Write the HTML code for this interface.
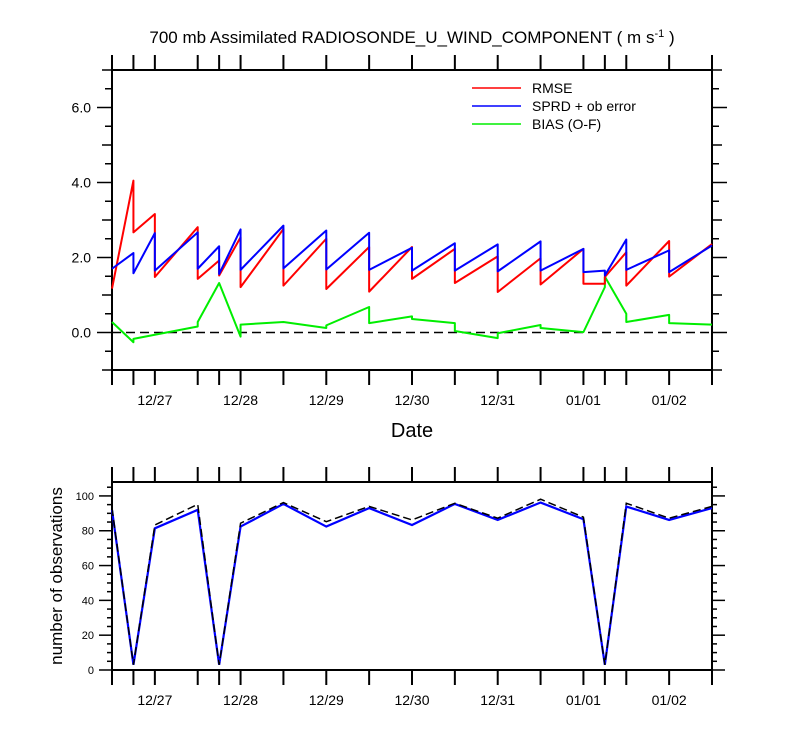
<!DOCTYPE html>
<html><head><meta charset="utf-8"><style>
body{margin:0;background:#fff;}
svg{display:block;font-family:"Liberation Sans",sans-serif;}
</style></head><body>
<svg id="c" width="800" height="750" viewBox="0 0 800 750">
<text x="412" y="43" font-size="17" text-anchor="middle">700 mb Assimilated RADIOSONDE_U_WIND_COMPONENT ( m s<tspan dy="-6" font-size="11">-1</tspan><tspan dy="6"> )</tspan></text>
<text x="412" y="437" font-size="20" text-anchor="middle">Date</text>
<text transform="translate(62,576) rotate(-90)" font-size="17" text-anchor="middle">number of observations</text>
<g>
<line x1="472" y1="88" x2="521" y2="88" stroke="#f00" stroke-width="1.5"/><text x="532" y="93" font-size="14">RMSE</text>
<line x1="472" y1="106" x2="521" y2="106" stroke="#00f" stroke-width="1.5"/><text x="532" y="111" font-size="14">SPRD + ob error</text>
<line x1="472" y1="124" x2="521" y2="124" stroke="#0e0" stroke-width="1.5"/><text x="532" y="129" font-size="14">BIAS (O-F)</text>
</g>
</svg>
<script>
// times in days since 12/27 00Z
const knotTimes=[-0.5,-0.25,0,0.5,0.75,1,1.5,2,2.5,3,3.5,4,4.5,5,5.25,5.5,6,6.5];
const dateLabels=["12/27","12/28","12/29","12/30","12/31","01/01","01/02"];
const dateTimes=[0,1,2,3,4,5,6];
const yTickLabels=["0.0","2.0","4.0","6.0"];
// each knot: [arriving value, leaving value]
const rmseEnd=[null,4.05,3.16,2.81,1.92,2.54,2.76,2.50,2.28,2.28,2.23,2.03,1.98,2.23,1.30,2.14,2.44,2.36];
const rmseStart=[1.17,2.67,1.48,1.43,1.52,1.21,1.25,1.16,1.09,1.43,1.32,1.08,1.28,1.30,1.48,1.25,1.49,null];
const sprdEnd=[null,2.12,2.65,2.67,2.30,2.75,2.85,2.72,2.66,2.26,2.38,2.35,2.43,2.23,1.65,2.48,2.19,2.32];
const sprdStart=[1.70,1.58,1.65,1.70,1.56,1.67,1.71,1.68,1.67,1.65,1.65,1.63,1.65,1.61,1.52,1.67,1.61,null];
const biasEnd=[null,-0.26,-0.06,0.16,1.32,-0.11,0.28,0.12,0.68,0.43,0.25,-0.15,0.20,0.01,1.21,0.50,0.47,0.21];
const biasStart=[0.28,-0.17,-0.06,0.28,1.32,0.21,0.28,0.19,0.25,0.36,0.04,-0.02,0.12,0.01,1.49,0.28,0.25,null];
const obsUsed=[92,3,81.4,92,3,82.4,95.4,82.4,93,83.3,95.4,86.2,96.2,86.6,3,93.9,86.2,93];
const obsTotal=[93,3,83.3,95.2,3,84.3,96.2,85.2,94,86.2,95.8,87.2,98.1,87.8,3,95.8,87.2,94];

const NS="http://www.w3.org/2000/svg";
const svg=document.getElementById('c');
const L=112,R=712;
const x=t=>L+(t+0.5)/7*(R-L);
const T1=70,B1=370,y1=v=>B1-(v+1)/8*(B1-T1);
const T2=482,B2=670,y2=v=>B2-v/108*(B2-T2);
function el(tag,a,parent){const e=document.createElementNS(NS,tag);for(const k in a)e.setAttribute(k,a[k]);(parent||svg).appendChild(e);return e;}

function frame(T,B,name){
  const r=el('rect',{x:L,y:T,width:R-L,height:B-T,fill:'none',stroke:'#000','stroke-width':2});
  
  
  knotTimes.forEach(t=>{
    el('line',{x1:x(t),y1:B,x2:x(t),y2:B+15,stroke:'#000','stroke-width':2});
    el('line',{x1:x(t),y1:T,x2:x(t),y2:T-15,stroke:'#000','stroke-width':2});
  });
  dateTimes.forEach((t,i)=>{
    const tx=el('text',{x:x(t),y:B+35,'font-size':14,'text-anchor':'middle'});
    tx.textContent=dateLabels[i];
    
    
  });
}
frame(T1,B1,'top-plot');
frame(T2,B2,'bottom-plot');
// top y ticks
for(let v=-1;v<=7;v+=0.5){
  const major=(v>=0&&v%2===0), mid=Number.isInteger(v);
  const len=major?15:(mid?10:7);
  el('line',{x1:L,y1:y1(v),x2:L-len,y2:y1(v),stroke:'#000','stroke-width':1.5});
  el('line',{x1:R,y1:y1(v),x2:R+len,y2:y1(v),stroke:'#000','stroke-width':1.5});
}
yTickLabels.forEach(s=>{
  const tx=el('text',{x:91,y:y1(parseFloat(s))+5,'font-size':14,'text-anchor':'end'});
  tx.textContent=s;
  
  
});
// bottom y ticks
for(let v=0;v<=105;v+=5){
  const len=v%20===0?13:5;
  el('line',{x1:L,y1:y2(v),x2:L-len,y2:y2(v),stroke:'#000','stroke-width':1.5});
  el('line',{x1:R,y1:y2(v),x2:R+len,y2:y2(v),stroke:'#000','stroke-width':1.5});
  if(v%20===0){const tx=el('text',{x:94,y:y2(v)+4,'font-size':11,'text-anchor':'end'});tx.textContent=v;
    
    }
}
// zero line
const z=el('line',{x1:L,y1:y1(0),x2:R,y2:y1(0),stroke:'#000','stroke-width':1.5,'stroke-dasharray':'9,5'});


function saw(endA,startA,color,name){
  let d='';
  knotTimes.forEach((t,i)=>{
    if(endA[i]!=null) d+=(d?'L':'M')+x(t)+','+y1(endA[i]);
    if(startA[i]!=null) d+=(d?'L':'M')+x(t)+','+y1(startA[i]);
  });
  const p=el('path',{d:d,fill:'none',stroke:color,'stroke-width':2,'stroke-linejoin':'round'});
  
  
}
saw(biasEnd,biasStart,'#0e0','bias-line');
saw(rmseEnd,rmseStart,'#f00','rmse-line');
saw(sprdEnd,sprdStart,'#00f','sprd-line');
function line(arr,color,name,dash){
  const d=arr.map((v,i)=>(i?'L':'M')+x(knotTimes[i])+','+y2(v)).join('');
  const p=el('path',{d:d,fill:'none',stroke:color,'stroke-width':dash?1.5:2.2,'stroke-dasharray':dash||'none'});
  
  
}
line(obsUsed,'#00f','obs-used-line');
line(obsTotal,'#000','obs-total-line','8,4');
</script>
</body></html>
